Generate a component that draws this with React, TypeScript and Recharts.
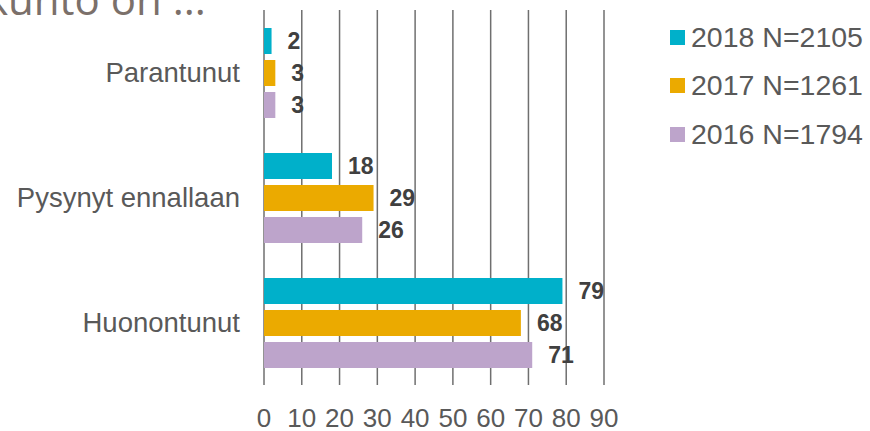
import { BarChart, Bar, XAxis, YAxis, CartesianGrid, LabelList } from 'recharts';

const categories = ['Parantunut', 'Pysynyt ennallaan', 'Huonontunut'];
const values2018 = [2, 18, 79];
const values2017 = [3, 29, 68];
const values2016 = [3, 26, 71];
const seriesNames = ['2018 N=2105', '2017 N=1261', '2016 N=1794'];
const xTicks = [0, 10, 20, 30, 40, 50, 60, 70, 80, 90];
const boundaryTicks = [0, 1, 2, 3];

const colors = ['#00B0CA', '#EBAA00', '#BDA4CB'];

const data = categories.map((name, i) => ({
  name,
  y2018: values2018[i],
  y2017: values2017[i],
  y2016: values2016[i],
}));

const FONT = 'Liberation Sans, Arial, sans-serif';

function LegendBox() {
  return (
    <div style={{ position: 'absolute', left: 670, top: 13, fontFamily: FONT }}>
      {seriesNames.map((name, i) => (
        <div key={name} style={{ display: 'flex', alignItems: 'center', height: 48.5 }}>
          <span style={{ width: 15, height: 15, background: colors[i], display: 'inline-block', marginRight: 6 }} />
          <span style={{ fontSize: 28.5, color: '#595959', whiteSpace: 'nowrap' }}>{name}</span>
        </div>
      ))}
    </div>
  );
}

export default function App() {
  return (
    <div style={{ position: 'absolute', left: 0, top: 0, width: 870, height: 431, background: '#fff', overflow: 'hidden' }}>
      <svg width={870} height={40} style={{ position: 'absolute', left: 0, top: 0 }}>
        <text x={-14} y={15} fontFamily="Open Sans, sans-serif" fontSize={42} fill="#7B706A">
          kunto on ...
        </text>
      </svg>
      <BarChart
        width={870}
        height={431}
        data={data}
        layout="vertical"
        margin={{ top: 10, right: 266, left: 0, bottom: 0 }}
        barSize={26}
        barGap={6}
      >
        <CartesianGrid horizontal={false} vertical stroke="#6F6F6F" strokeWidth={1.5} />
        <XAxis
          type="number"
          domain={[0, 90]}
          ticks={xTicks}
          axisLine={false}
          tickLine={false}
          tickSize={0}
          tickMargin={24}
          height={46}
          interval={0}
          tick={{ fontSize: 26, fill: '#595959', fontFamily: FONT }}
        />
        <YAxis
          yAxisId="edge"
          type="number"
          domain={[0, 3]}
          ticks={boundaryTicks}
          width={0}
          axisLine={{ stroke: '#595959', strokeWidth: 1.5 }}
          tickLine={{ stroke: '#595959', strokeWidth: 1.5 }}
          tickSize={6}
          tick={() => <g />}
        />
        <YAxis
          yAxisId="cat"
          type="category"
          dataKey="name"
          width={264}
          axisLine={false}
          tickLine={false}
          tickSize={0}
          tickMargin={24}
          tick={{ fontSize: 27.5, fill: '#595959', fontFamily: FONT }}
        />
        <Bar yAxisId="cat" dataKey="y2018" name={seriesNames[0]} fill={colors[0]} isAnimationActive={false}>
          <LabelList dataKey="y2018" position="right" offset={16} fill="#404040" fontSize={23} fontWeight="bold" fontFamily={FONT} />
        </Bar>
        <Bar yAxisId="cat" dataKey="y2017" name={seriesNames[1]} fill={colors[1]} isAnimationActive={false}>
          <LabelList dataKey="y2017" position="right" offset={16} fill="#404040" fontSize={23} fontWeight="bold" fontFamily={FONT} />
        </Bar>
        <Bar yAxisId="cat" dataKey="y2016" name={seriesNames[2]} fill={colors[2]} isAnimationActive={false}>
          <LabelList dataKey="y2016" position="right" offset={16} fill="#404040" fontSize={23} fontWeight="bold" fontFamily={FONT} />
        </Bar>
      </BarChart>
      <LegendBox />
    </div>
  );
}
